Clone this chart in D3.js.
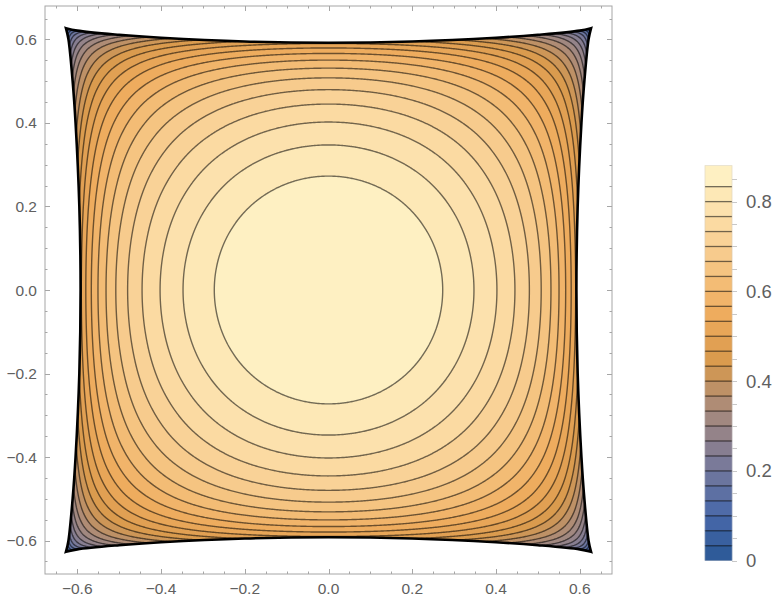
<!DOCTYPE html>
<html>
<head>
<meta charset="utf-8">
<script src="https://cdn.jsdelivr.net/npm/d3@7"></script>
<style>
  html, body { margin: 0; padding: 0; background: #fff; }
  svg { display: block; }
  text { font-family: "Liberation Sans", Arial, sans-serif; }
</style>
</head>
<body>
<svg id="chart" width="776" height="596"></svg>
<script>
// Contour levels of the surface (25 lines, 26 shaded bands)
const levels = [0.0333, 0.0667, 0.1, 0.1333, 0.1667, 0.2, 0.2333, 0.2667, 0.3, 0.3333,
                0.3667, 0.4, 0.4333, 0.4667, 0.5, 0.5333, 0.5667, 0.6, 0.6333, 0.6667,
                0.7, 0.7333, 0.7667, 0.8, 0.8333];
// Value range of the surface
const zMin = 0;
const zMax = 0.88;
// Surface: with u = x/a, v = y/a and P = (1-u²)(1-v²),
// z = zMax * [P · exp(-k·u²v²·P)]^p
const halfSide = 0.627;
const power = 0.26;
const crossTerm = 1.2;
// Half-width of the region's curved edge, measured along the edge from its middle
const edgeAlong = [0, 0.2, 0.4, 0.5, 0.6, 0.627];
const edgeHalfWidth = [0.592, 0.595, 0.604, 0.611, 0.621, 0.627];
// Axis ticks
const axisTicks = [-0.6, -0.4, -0.2, 0.0, 0.2, 0.4, 0.6];
const axisTickLabels = ["\u22120.6", "\u22120.4", "\u22120.2", "0.0", "0.2", "0.4", "0.6"];
const legendTicks = [0, 0.2, 0.4, 0.6, 0.8];
const legendTickLabels = ["0", "0.2", "0.4", "0.6", "0.8"];
// Colour gradient stops (fraction of the value range -> colour)
const gradientStops = [0, 0.12, 0.25, 0.38, 0.5, 0.62, 0.75, 0.88, 1];
const gradientColors = ["#2a5896", "#4a69aa", "#7b7a99", "#a88a7c", "#d8994c",
                        "#eeab5c", "#f6c685", "#fcdfaa", "#fff5c9"];

const svg = d3.select("#chart");

const frame = { left: 45, right: 612, top: 6, bottom: 574 };
const x = d3.scaleLinear().domain([-0.677, 0.677]).range([frame.left, frame.right]);
const y = d3.scaleLinear().domain([-0.68, 0.68]).range([frame.bottom, frame.top]);

const colorScale = d3.scaleLinear()
  .domain(gradientStops.map(s => zMin + s * (zMax - zMin)))
  .range(gradientColors)
  .interpolate(d3.interpolateRgb);

const bandEdges = [zMin, ...levels, zMax];
const bandColor = k => colorScale((bandEdges[k] + bandEdges[k + 1]) / 2);

// Sample the surface on a grid
const N = 540;
const g0 = -0.645, g1 = 0.645;
const step = (g1 - g0) / (N - 1);
const values = new Float64Array(N * N);
for (let j = 0; j < N; j++) {
  const v = (g0 + j * step) / halfSide;
  for (let i = 0; i < N; i++) {
    const u = (g0 + i * step) / halfSide;
    let z = 0;
    if (Math.abs(u) < 1 && Math.abs(v) < 1) {
      const u2 = u * u, v2 = v * v;
      const P = (1 - u2) * (1 - v2);
      const q = P * Math.exp(-crossTerm * u2 * v2 * P);
      z = q > 0 ? zMax * Math.pow(q, power) : 0;
    }
    values[i + j * N] = z;
  }
}

const gridPath = d3.geoPath(d3.geoTransform({
  point(px, py) {
    this.stream.point(x(g0 + (px - 0.5) * step), y(g0 + (py - 0.5) * step));
  }
}));

const contours = d3.contours().size([N, N]).thresholds(levels)(values);

// Region outline: four concave edges meeting at sharp corners
const edgeScale = d3.scaleLinear().domain(edgeAlong).range(edgeHalfWidth);
const along = [...edgeAlong].reverse().map(t => -t).concat(edgeAlong.slice(1));
const w = t => edgeScale(Math.abs(t));
const edges = [
  along.map(t => [w(t), t]),
  along.slice().reverse().map(t => [t, w(t)]),
  along.slice().reverse().map(t => [-w(t), t]),
  along.map(t => [t, -w(t)])
];
const edgeLine = d3.line().x(d => x(d[0])).y(d => y(d[1])).curve(d3.curveCatmullRom.alpha(0.5));
const outline = edges.map((e, i) => {
  const s = edgeLine(e);
  return i === 0 ? s : s.replace(/^M/, "L");
}).join("") + "Z";

const defs = svg.append("defs");
defs.append("clipPath").attr("id", "region").append("path").attr("d", outline);

// Frame
svg.append("rect")
  .attr("x", frame.left).attr("y", frame.top)
  .attr("width", frame.right - frame.left).attr("height", frame.bottom - frame.top)
  .attr("fill", "none").attr("stroke", "#a6a6a6").attr("stroke-width", 1);

// Shaded bands and contour lines
const plot = svg.append("g").attr("clip-path", "url(#region)");
plot.append("path").attr("d", outline).attr("fill", bandColor(0));
plot.selectAll("path.band").data(contours).join("path")
  .attr("class", "band")
  .attr("d", gridPath)
  .attr("fill", (d, i) => bandColor(i + 1));
plot.selectAll("path.line").data(contours).join("path")
  .attr("class", "line")
  .attr("d", gridPath)
  .attr("fill", "none")
  .attr("stroke", "rgba(0,0,0,0.55)")
  .attr("stroke-width", 1.4);

svg.append("path").attr("d", outline)
  .attr("fill", "none").attr("stroke", "#000").attr("stroke-width", 2.6)
  .attr("stroke-linejoin", "miter");

// Frame ticks on all four sides
const minorTicks = d3.range(-13, 14).map(k => k * 0.05);
const tickG = svg.append("g").attr("stroke", "#a6a6a6").attr("stroke-width", 1);
const isMajor = v => axisTicks.some(t => Math.abs(t - v) < 1e-6);
minorTicks.forEach(v => {
  const len = isMajor(v) ? 5 : 2.5;
  const px = Math.round(x(v)) + 0.5, py = Math.round(y(v)) + 0.5;
  if (px > frame.left + 1 && px < frame.right - 1) {
    tickG.append("line").attr("x1", px).attr("x2", px).attr("y1", frame.bottom).attr("y2", frame.bottom - len);
    tickG.append("line").attr("x1", px).attr("x2", px).attr("y1", frame.top).attr("y2", frame.top + len);
  }
  if (py > frame.top + 1 && py < frame.bottom - 1) {
    tickG.append("line").attr("y1", py).attr("y2", py).attr("x1", frame.left).attr("x2", frame.left + len);
    tickG.append("line").attr("y1", py).attr("y2", py).attr("x1", frame.right).attr("x2", frame.right - len);
  }
});

const labelColor = "#606060";
svg.append("g").selectAll("text").data(axisTicks).join("text")
  .attr("x", d => x(d)).attr("y", frame.bottom + 20)
  .attr("text-anchor", "middle").attr("font-size", 15.5).attr("fill", labelColor)
  .text((d, i) => axisTickLabels[i]);
svg.append("g").selectAll("text").data(axisTicks).join("text")
  .attr("x", frame.left - 8).attr("y", d => y(d) + 5.5)
  .attr("text-anchor", "end").attr("font-size", 15.5).attr("fill", labelColor)
  .text((d, i) => axisTickLabels[i]);

// Legend bar
const legend = { x: 705, width: 27, top: 165.7, bottom: 560.7 };
const ly = d3.scaleLinear().domain([zMin, zMax]).range([legend.bottom, legend.top]);
const lg = svg.append("g");
lg.selectAll("rect").data(d3.range(bandEdges.length - 1)).join("rect")
  .attr("x", legend.x).attr("width", legend.width)
  .attr("y", k => ly(bandEdges[k + 1]))
  .attr("height", k => ly(bandEdges[k]) - ly(bandEdges[k + 1]))
  .attr("fill", k => bandColor(k))
  .attr("stroke", k => bandColor(k)).attr("stroke-width", 0.5);
lg.selectAll("line.lvl").data(levels).join("line")
  .attr("class", "lvl")
  .attr("x1", legend.x).attr("x2", legend.x + legend.width)
  .attr("y1", d => ly(d)).attr("y2", d => ly(d))
  .attr("stroke", "rgba(0,0,0,0.55)").attr("stroke-width", 1.3);
lg.append("rect").attr("x", legend.x).attr("y", legend.top)
  .attr("width", legend.width).attr("height", legend.bottom - legend.top)
  .attr("fill", "none").attr("stroke", "rgba(200,200,200,0.6)").attr("stroke-width", 0.6);
const legendMinor = d3.range(0, 18).map(k => k * 0.05);
lg.selectAll("line.tk").data(legendMinor).join("line")
  .attr("class", "tk")
  .attr("x1", legend.x + legend.width).attr("x2", legend.x + legend.width + 5)
  .attr("y1", d => Math.round(ly(d)) + 0.5).attr("y2", d => Math.round(ly(d)) + 0.5)
  .attr("stroke", "#c8c8c8").attr("stroke-width", 1);
lg.selectAll("text").data(legendTicks).join("text")
  .attr("x", 746).attr("y", d => ly(d) + 6.5)
  .attr("font-size", 18.5).attr("fill", labelColor)
  .text((d, i) => legendTickLabels[i]);
</script>
</body>
</html>
